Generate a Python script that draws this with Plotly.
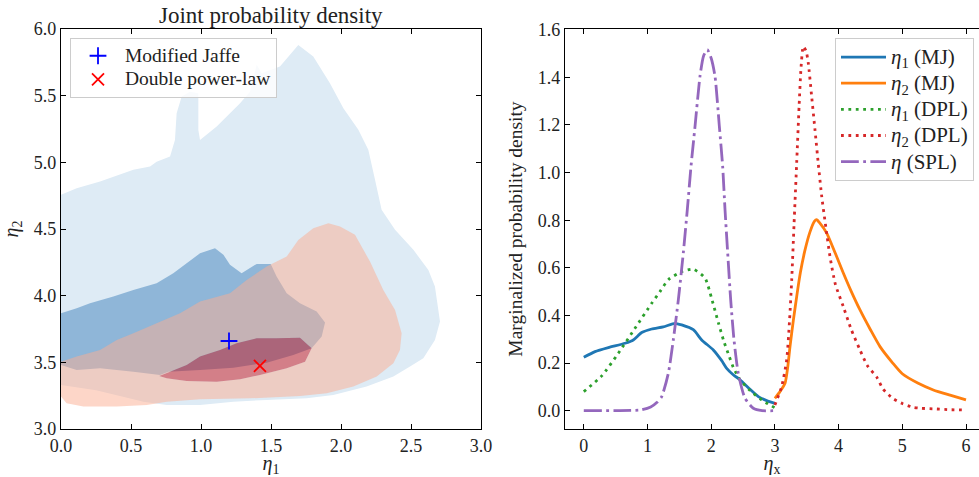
import plotly.graph_objects as go

# ---------------- Left panel: contour regions (vertex lists) ----------
blue_outer_x = [0, 0.112, 0.279, 0.517, 0.636, 0.683, 0.779, 0.814, 0.826, 0.862, 0.921, 0.981, 0.981, 0.993,
                1.112, 1.279, 1.35, 1.398, 1.433, 1.564, 1.695, 1.802, 1.921, 2.017, 2.124, 2.195, 2.243, 2.29,
                2.386, 2.517, 2.624, 2.671, 2.707, 2.671, 2.588, 2.493, 2.374, 2.183, 1.945, 1.755, 1.469, 1.231,
                0.993, 0.755, 0.588, 0.45, 0.25, 0]
blue_outer_y = [4.756, 4.806, 4.856, 4.944, 4.968, 5.005, 5.043, 5.168, 5.368, 5.493, 5.53, 5.518, 5.243, 5.168,
                5.268, 5.443, 5.53, 5.731, 5.668, 5.718, 5.88, 5.793, 5.593, 5.406, 5.245, 5.095, 4.87, 4.644,
                4.494, 4.344, 4.193, 4.068, 3.806, 3.668, 3.53, 3.468, 3.393, 3.318, 3.255, 3.23, 3.218, 3.205,
                3.18, 3.18, 3.205, 3.24, 3.29, 3.33]

blue_inner_x = [0, 0.112, 0.207, 0.374, 0.517, 0.683, 0.802, 0.993, 1.1, 1.16, 1.207, 1.29, 1.398, 1.498, 1.54,
                1.612, 1.707, 1.826, 1.886, 1.862, 1.79, 1.659, 1.469, 1.231, 0.993, 0.767, 0.707, 0.517, 0.279,
                0.112, 0]
blue_inner_y = [3.868, 3.906, 3.943, 3.993, 4.043, 4.093, 4.168, 4.318, 4.356, 4.306, 4.231, 4.168, 4.238, 4.238,
                4.143, 4.018, 3.943, 3.881, 3.798, 3.693, 3.605, 3.555, 3.497, 3.46, 3.443, 3.43, 3.405, 3.43,
                3.455, 3.443, 3.48]

red_outer_x = [0, 0.112, 0.279, 0.398, 0.517, 0.683, 0.85, 0.993, 1.207, 1.326, 1.469, 1.612, 1.695, 1.802, 1.91,
               1.993, 2.1, 2.207, 2.302, 2.386, 2.433, 2.421, 2.374, 2.255, 2.088, 1.898, 1.707, 1.35, 0.993,
               0.755, 0.612, 0.398, 0.16, 0.04, 0]
red_outer_y = [3.505, 3.543, 3.593, 3.668, 3.718, 3.793, 3.868, 3.956, 4.018, 4.118, 4.218, 4.293, 4.418, 4.506,
               4.544, 4.519, 4.456, 4.256, 4.043, 3.893, 3.718, 3.593, 3.493, 3.393, 3.318, 3.268, 3.248, 3.23,
               3.223, 3.205, 3.18, 3.168, 3.168, 3.193, 3.243]

red_inner_x = [0.702, 0.779, 0.898, 0.993, 1.136, 1.255, 1.398, 1.541, 1.707, 1.79, 1.743, 1.612, 1.421, 1.279,
               1.112, 0.898, 0.755]
red_inner_y = [3.398, 3.43, 3.48, 3.543, 3.593, 3.643, 3.68, 3.68, 3.685, 3.605, 3.505, 3.455, 3.405, 3.373,
               3.355, 3.36, 3.38]

marker_names = ["Modified Jaffe", "Double power-law"]
marker_x = [1.2, 1.421]
marker_y = [3.66, 3.473]

# ---------------- Right panel: marginalized densities ----------------
mj1_x = [0, 0.176, 0.385, 0.647, 0.777, 0.909, 1.066, 1.248, 1.432, 1.537, 1.719, 1.851, 2.033, 2.165, 2.243,
         2.35, 2.452, 2.6, 2.74, 2.87, 3.0]
mj1_y = [0.224, 0.248, 0.265, 0.283, 0.297, 0.328, 0.343, 0.352, 0.367, 0.36, 0.34, 0.297, 0.255, 0.21, 0.178,
         0.15, 0.13, 0.092, 0.059, 0.042, 0.031]

mj2_x = [3.0, 3.08, 3.159, 3.2, 3.237, 3.29, 3.342, 3.4, 3.473, 3.55, 3.62, 3.656, 3.7, 3.813, 3.95, 4.074, 4.2,
         4.336, 4.5, 4.65, 4.85, 5.0, 5.25, 5.487, 5.75, 6.0]
mj2_y = [0.052, 0.08, 0.115, 0.18, 0.269, 0.38, 0.479, 0.58, 0.675, 0.75, 0.795, 0.802, 0.79, 0.746, 0.66, 0.578,
         0.5, 0.423, 0.34, 0.269, 0.2, 0.155, 0.115, 0.087, 0.065, 0.045]

dpl1_x = [0, 0.281, 0.542, 0.804, 1.066, 1.196, 1.327, 1.537, 1.719, 1.903, 2.008, 2.112, 2.2, 2.28, 2.35, 2.452,
          2.6, 2.793, 3.0]
dpl1_y = [0.08, 0.146, 0.241, 0.346, 0.451, 0.5, 0.55, 0.584, 0.594, 0.557, 0.47, 0.37, 0.29, 0.23, 0.18, 0.13,
          0.087, 0.045, 0.012]

dpl2_x = [3.0, 3.106, 3.185, 3.23, 3.264, 3.3, 3.342, 3.38, 3.41, 3.446, 3.49, 3.524, 3.577, 3.629, 3.68, 3.735,
          3.8, 3.865, 3.95, 4.074, 4.2, 4.336, 4.45, 4.6, 4.7, 4.86, 5.0, 5.17, 5.3, 5.54, 5.75, 6.0]
dpl2_y = [0.024, 0.101, 0.213, 0.38, 0.55, 0.78, 1.04, 1.28, 1.44, 1.53, 1.51, 1.46, 1.32, 1.18, 1.04, 0.9, 0.77,
          0.647, 0.53, 0.437, 0.34, 0.255, 0.19, 0.14, 0.09, 0.05, 0.03, 0.014, 0.01, 0.007, 0.004, 0.003]

spl_x = [0, 0.5, 0.9, 1.05, 1.15, 1.223, 1.327, 1.405, 1.484, 1.562, 1.625, 1.683, 1.746, 1.824, 1.88, 1.939,
         2.0, 2.06, 2.128, 2.18, 2.217, 2.259, 2.306, 2.358, 2.425, 2.531, 2.661, 2.8, 3.0]
spl_y = [0, 0, 0.003, 0.015, 0.035, 0.059, 0.157, 0.297, 0.465, 0.662, 0.844, 1.026, 1.194, 1.404, 1.49, 1.516,
         1.48, 1.404, 1.194, 1.026, 0.844, 0.662, 0.465, 0.297, 0.157, 0.052, 0.01, 0.0, 0.0]

line_names = ["<i>η</i><sub>1</sub> (MJ)", "<i>η</i><sub>2</sub> (MJ)", "<i>η</i><sub>1</sub> (DPL)",
              "<i>η</i><sub>2</sub> (DPL)", "<i>η</i> (SPL)"]
line_colors = ["#1f77b4", "#ff7f0e", "#2ca02c", "#d62728", "#9467bd"]

FONT = "Liberation Serif"
TXT = "#222222"
W, H = 979, 477
ML, MR, MT, MB = 61, 0, 29, 48
PW = W - ML - MR


def ring(xs, ys):
    return "M " + " L ".join(f"{a},{b}" for a, b in zip(xs, ys)) + " Z"


def big(text, px):
    return f'<span style="font-size:{px}px">{text}</span>'


fig = go.Figure()

# markers (left legend)
fig.add_trace(go.Scatter(x=[marker_x[0]], y=[marker_y[0]], mode="markers", name=big(marker_names[0], 19.5),
                         marker=dict(symbol="cross-thin", size=12, line=dict(color="#0000ff", width=1.8)),
                         xaxis="x", yaxis="y", legend="legend"))
fig.add_trace(go.Scatter(x=[marker_x[1]], y=[marker_y[1]], mode="markers", name=big(marker_names[1], 19.5),
                         marker=dict(symbol="x-thin", size=12, line=dict(color="#ff0000", width=1.8)),
                         xaxis="x", yaxis="y", legend="legend"))

# right panel lines
series = [(mj1_x, mj1_y, "solid"), (mj2_x, mj2_y, "solid"), (dpl1_x, dpl1_y, "2.8px,4.6px"),
          (dpl2_x, dpl2_y, "2.8px,4.6px"), (spl_x, spl_y, "17.8px,4.4px,2.8px,4.4px")]
for (xs, ys, dash), nm, col in zip(series, line_names, line_colors):
    fig.add_trace(go.Scatter(x=xs, y=ys, mode="lines", name=big(nm, 21),
                             line=dict(color=col, width=2.8, dash=dash, shape="spline", smoothing=0.6),
                             xaxis="x2", yaxis="y2", legend="legend2"))

shapes = [
    dict(type="path", path=ring(blue_outer_x, blue_outer_y), fillcolor="rgb(222,235,245)"),
    dict(type="path", path=ring(blue_inner_x, blue_inner_y), fillcolor="rgb(143,182,216)"),
    dict(type="path", path=ring(red_outer_x, red_outer_y) + " " + ring(red_inner_x, red_inner_y),
         fillcolor="rgba(252,174,145,0.5)", fillrule="evenodd"),
    dict(type="path", path=ring(red_inner_x, red_inner_y), fillcolor="rgba(200,20,28,0.5)"),
]
for s in shapes:
    s.update(xref="x", yref="y", layer="below", line=dict(width=0))

axis_common = dict(showline=True, linecolor="black", linewidth=1.2, ticks="inside", ticklen=5,
                   tickwidth=1.1, tickcolor="black", showgrid=False, zeroline=False, automargin=False,
                   tickfont=dict(family=FONT, size=18, color=TXT))

d1 = (481 - ML) / PW
d2 = (565 - ML) / PW
TF = dict(family=FONT, size=20, color=TXT)

fig.update_layout(
    width=W, height=H, margin=dict(l=ML, r=MR, t=MT, b=MB, autoexpand=False),
    paper_bgcolor="white", plot_bgcolor="white",
    font=dict(family=FONT, size=18, color=TXT),
    shapes=shapes,
    xaxis=dict(domain=[0, d1], range=[0, 3], dtick=0.5, tickformat=".1f", mirror="allticks",
               title=dict(text="<i>η</i><sub>1</sub>", standoff=5, font=TF),
               anchor="y", **axis_common),
    yaxis=dict(domain=[0, 1], range=[3, 6], dtick=0.5, tickformat=".1f", mirror="allticks",
               title=dict(text="<i>η</i><sub>2</sub>", standoff=9, font=TF),
               anchor="x", **axis_common),
    xaxis2=dict(domain=[d2, 1], range=[-0.295, 6.204], dtick=1, mirror="allticks",
                title=dict(text="<i>η</i><sub>x</sub>", standoff=5, font=TF),
                anchor="y2", **axis_common),
    yaxis2=dict(domain=[0, 1], range=[-0.077, 1.603], dtick=0.2, tickformat=".1f", mirror=False,
                title=dict(text="Marginalized probability density", standoff=9,
                           font=dict(family=FONT, size=19.5, color=TXT)),
                anchor="x2", **axis_common),
    legend=dict(x=(70 - ML) / PW, y=(429 - 38) / 400, xanchor="left", yanchor="top",
                bgcolor="rgba(255,255,255,0.8)", bordercolor="#cccccc", borderwidth=1,
                itemwidth=44, font=dict(family=FONT, size=15.8, color=TXT)),
    legend2=dict(x=(835 - ML) / PW, y=(429 - 38) / 400, xanchor="left", yanchor="top",
                 bgcolor="rgba(255,255,255,0.8)", bordercolor="#cccccc", borderwidth=1,
                 itemwidth=45, font=dict(family=FONT, size=17.8, color=TXT)),
    annotations=[dict(text="Joint probability density", x=d1 / 2, y=1, xref="paper", yref="paper",
                      xanchor="center", yanchor="bottom", yshift=-1, showarrow=False,
                      font=dict(family=FONT, size=23, color=TXT))],
)

fig.write_html("out.html", config={"displayModeBar": False},
               post_script="document.body.style.margin='0';document.body.style.padding='0';"
                           "document.body.style.overflow='hidden';")
